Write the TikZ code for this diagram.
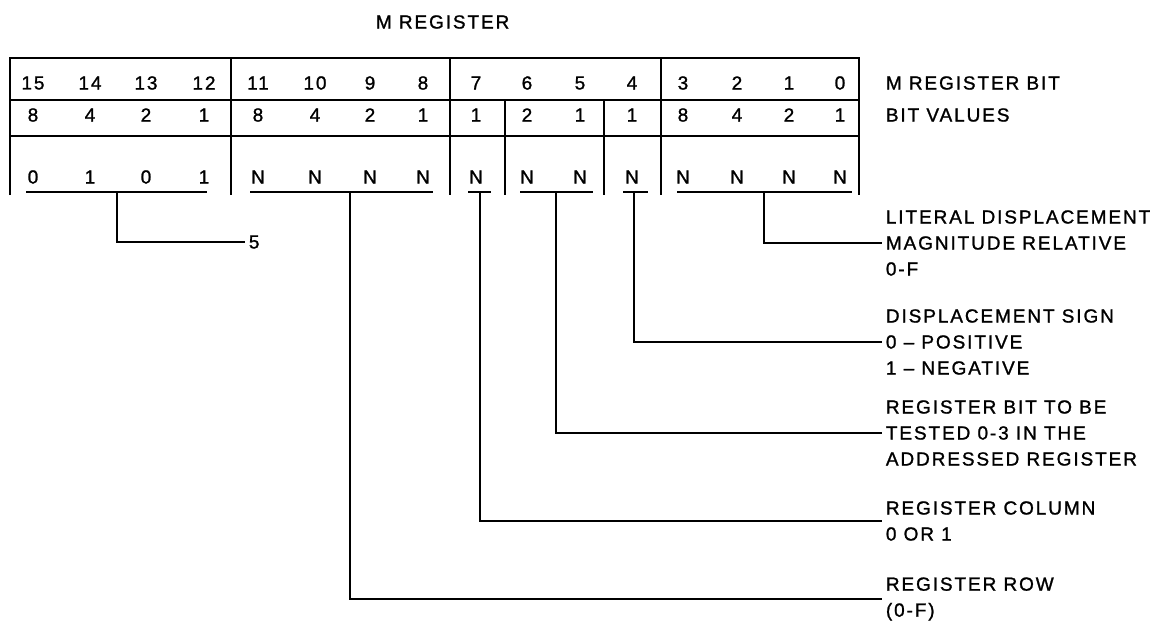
\documentclass[tikz,border=0pt]{standalone}
\usepackage{fontspec}
\setmainfont[LetterSpace=10, FakeBold=1.2]{Liberation Sans}
\usepackage{tikz}
\tikzstyle{bit}=[inner sep=0pt]
\tikzstyle{regnote}=[anchor=west, align=left, inner sep=1.5pt]
\newcommand{\regnote}{\node[regnote]}

\begin{document}
\begin{tikzpicture}[x=0.5pt, y=-0.5pt, line width=0.9pt
    ,every node/.style={font=\fontsize{9.5}{13}\selectfont}
]
\useasboundingbox (0,0) rectangle (1158,622);
\node[anchor=west, inner sep=0pt] (title) at (375,22) {M REGISTER};
% register frame
\draw (10,195) -- (10,58) -- (859,58) -- (859,195);
\draw (10,100) -- (859,100) (10,136) -- (859,136);
\draw (231,58) -- (231,195) (450,58) -- (450,195) (661,58) -- (661,195);
\draw (505,100) -- (505,195) (604,100) -- (604,195);
\foreach \b/\x/\v/\d in {15/33/8/0, 14/90/4/1, 13/146/2/0, 12/204/1/1,
    11/258/8/N, 10/315/4/N, 9/370/2/N, 8/423/1/N, 7/476/1/N, 6/527/2/N,
    5/580/1/N, 4/632/1/N, 3/683/8/N, 2/737/4/N, 1/789/2/N, 0/840/1/N}{
  \node[bit] (n\b) at (\x,83) {\b};
  \node[bit] (v\b) at (\x,115) {\v};
  \node[bit] (b\b) at (\x,177) {\d};
}
\regnote (bitrow) at (882,83) {M REGISTER BIT};
\regnote (valrow) at (882,115) {BIT VALUES};
% field underlines
\draw (26,192) -- (207,192) (250,192) -- (433,192) (468,192) -- (491,192)
      (520,192) -- (593,192) (623,192) -- (648,192) (677,192) -- (852,192);
\coordinate (f15) at (117,192);
\coordinate (f11) at (350,192);
\coordinate (f7) at (480,192);
\coordinate (f6) at (556,192);
\coordinate (f4) at (634,192);
\coordinate (f3) at (764,192);
% field meanings
\regnote (five) at (245,242) {5};
\regnote (literal) at (882,243) {LITERAL DISPLACEMENT\\MAGNITUDE RELATIVE\\0-F};
\regnote (sign) at (882,342) {DISPLACEMENT SIGN\\0 – POSITIVE\\1 – NEGATIVE};
\regnote (regbit) at (882,433) {REGISTER BIT TO BE\\TESTED 0-3 IN THE\\ADDRESSED REGISTER};
\regnote (column) at (882,521) {REGISTER COLUMN\\0 OR 1};
\regnote (row) at (882,599) {REGISTER ROW\\(0-F)};
\draw (f15) |- (five);
\draw (f11) |- (row);
\draw (f7) |- (column);
\draw (f6) |- (regbit);
\draw (f4) |- (sign);
\draw (f3) |- (literal);
\end{tikzpicture}
\end{document}
